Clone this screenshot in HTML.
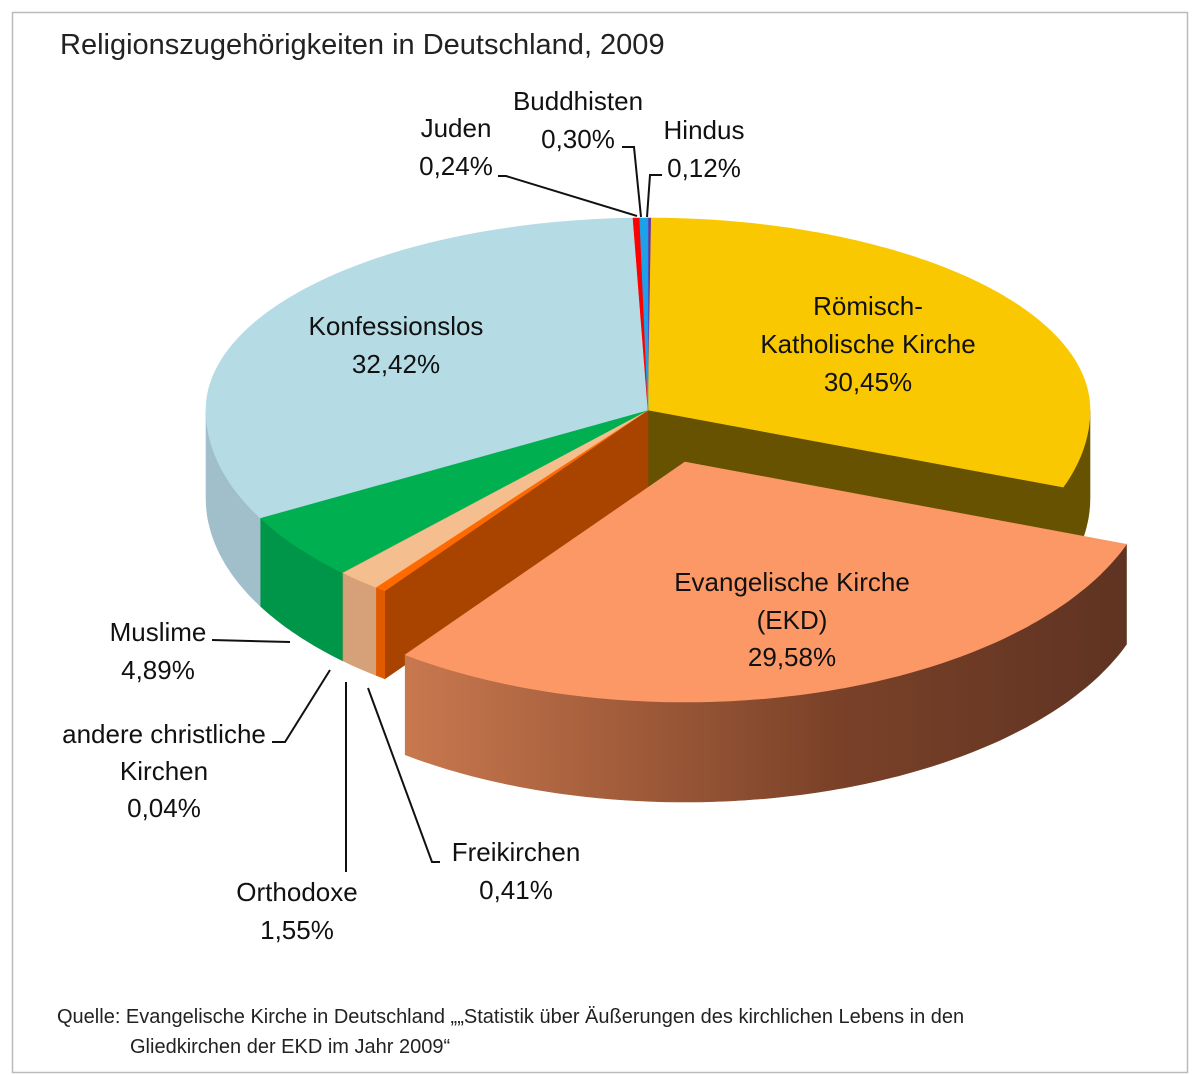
<!DOCTYPE html>
<html><head><meta charset="utf-8"><style>
body{margin:0;background:#fff;width:1200px;height:1075px;overflow:hidden}
svg{display:block}
.l{font-family:"Liberation Sans Narrow","Liberation Sans",sans-serif;font-size:26px;fill:#111;text-anchor:middle}
</style></head><body>
<svg id="s" width="1200" height="1075" xmlns="http://www.w3.org/2000/svg">
<defs>
<linearGradient id="eg" x1="0" x2="1" y1="0" y2="0">
<stop offset="0" stop-color="#c9784e"/><stop offset="0.6" stop-color="#7a4128"/><stop offset="1" stop-color="#5f3322"/></linearGradient>
</defs>
<rect x="12.5" y="12.5" width="1175" height="1060" fill="none" stroke="#bbb" stroke-width="1.5"/>
<text x="60" y="54" style="font-family:'Liberation Sans',sans-serif;font-size:29px;fill:#222">Religionszugehörigkeiten in Deutschland, 2009</text>
<g id="pie"></g>
<g stroke="#111" stroke-width="2" fill="none">
<polyline points="498,176 506,176 637,216"/>
<polyline points="622,147 634,147 641,217"/>
<polyline points="662,175 650,175 647,217"/>
<polyline points="212,640 290,642"/>
<polyline points="272,742 285,742 330,670"/>
<polyline points="346,872 346,682"/>
<polyline points="440,862 432,862 368,688"/>
</g>
<text class="l" x="456" y="137">Juden</text><text class="l" x="456" y="175">0,24%</text>
<text class="l" x="578" y="110">Buddhisten</text><text class="l" x="578" y="148">0,30%</text>
<text class="l" x="704" y="139">Hindus</text><text class="l" x="704" y="177">0,12%</text>
<text class="l" x="868" y="315">Römisch-</text><text class="l" x="868" y="353">Katholische Kirche</text><text class="l" x="868" y="391">30,45%</text>
<text class="l" x="396" y="335">Konfessionslos</text><text class="l" x="396" y="373">32,42%</text>
<text class="l" x="792" y="591">Evangelische Kirche</text><text class="l" x="792" y="629">(EKD)</text><text class="l" x="792" y="666">29,58%</text>
<text class="l" x="158" y="641">Muslime</text><text class="l" x="158" y="679">4,89%</text>
<text class="l" x="164" y="743">andere christliche</text><text class="l" x="164" y="780">Kirchen</text><text class="l" x="164" y="817">0,04%</text>
<text class="l" x="297" y="901">Orthodoxe</text><text class="l" x="297" y="939">1,55%</text>
<text class="l" x="516" y="861">Freikirchen</text><text class="l" x="516" y="899">0,41%</text>
<text x="57" y="1023" style="font-family:'Liberation Sans',sans-serif;font-size:20px;fill:#222">Quelle: Evangelische Kirche in Deutschland „„Statistik über Äußerungen des kirchlichen Lebens in den</text>
<text x="130" y="1053" style="font-family:'Liberation Sans',sans-serif;font-size:20px;fill:#222">Gliedkirchen der EKD im Jahr 2009“</text>
</svg>
<script>
(function(){
var g=document.getElementById('pie');var NS='http://www.w3.org/2000/svg';
function P(cx,cy,f,d,rx,ryt,ryb){var a=2*Math.PI*f,c=Math.cos(a);var ry=c>0?ryt:ryb;return [cx+rx*Math.sin(a),cy-ry*c+(d||0)];}
function arc(cx,cy,f0,f1,d,rx,ryt,ryb){var pts=[],n=Math.max(2,Math.ceil((f1-f0)*400));for(var i=0;i<=n;i++)pts.push(P(cx,cy,f0+(f1-f0)*i/n,d,rx,ryt,ryb));return pts;}
function poly(pts,fill){var p=document.createElementNS(NS,'polygon');p.setAttribute('points',pts.map(function(q){return q[0].toFixed(1)+','+q[1].toFixed(1)}).join(' '));p.setAttribute('fill',fill);p.setAttribute('stroke',fill);p.setAttribute('stroke-width','0.6');g.appendChild(p);}
var sl=[[0.0012,'#7030a0','#5a2080'],[0.3045,'#f9c800','#665200'],[0.2958,'#fb9866','url(#eg)'],[0.0041,'#ff6a00','#e05a00'],[0.0155,'#f4be8e','#d6a078'],[0.0004,'#f0b080','#d09070'],[0.0489,'#00b050','#00964a'],[0.3242,'#b5dbe5','#a0bfcb'],[0.0024,'#ff0000','#c00000'],[0.0030,'#1da1e8','#1580c0']];
var acc=0;sl.forEach(function(s){s.f0=acc;acc+=s[0];s.f1=acc;});
var cx=648,cy=410,D=88,RX=442,RT=192,RB=225;
var fy=sl[1].f1, ff=sl[3].f0;
var a=P(cx,cy,fy,0,RX,RT,RB);poly([[cx,cy],a,[a[0],a[1]+D],[cx,cy+D]],'#665200');
var b=P(cx,cy,ff,0,RX,RT,RB);poly([[cx,cy],b,[b[0],b[1]+D],[cx,cy+D]],'#a84400');
sl.forEach(function(s,i){if(i==2)return;var f0=Math.max(s.f0,0.25),f1=Math.min(s.f1,0.75);if(f1<=f0)return;
var top=arc(cx,cy,f0,f1,0,RX,RT,RB),bot=arc(cx,cy,f0,f1,D,RX,RT,RB).reverse();poly(top.concat(bot),s[2]);});
sl.forEach(function(s,i){if(i==2)return;poly([[cx,cy]].concat(arc(cx,cy,s.f0,s.f1,0,RX,RT,RB)),s[1]);});
var s=sl[2],ecx=685,ecy=462,ED=100;
var top=arc(ecx,ecy,s.f0,s.f1,0,470,200,240),bot=arc(ecx,ecy,s.f0,s.f1,ED,470,200,240).reverse();
poly(top.concat(bot),'url(#eg)');
poly([[ecx,ecy]].concat(top),s[1]);
})();
</script>
</body></html>
